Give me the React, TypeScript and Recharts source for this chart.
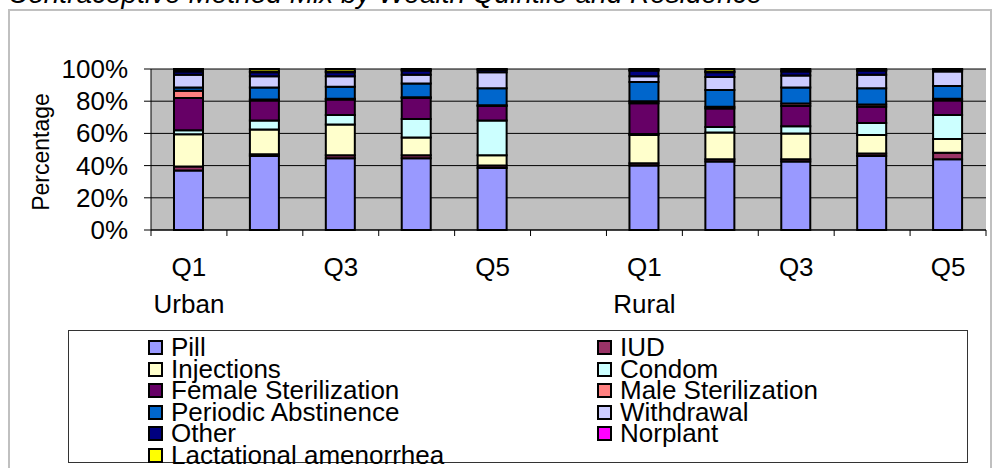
import { BarChart, Bar, XAxis, YAxis, CartesianGrid } from 'recharts'

const FONT = '"Liberation Sans", Arial, sans-serif'

// categories: Urban Q1..Q5, empty gap, Rural Q1..Q5
const categoryKeys = ['U1', 'U2', 'U3', 'U4', 'U5', 'gap', 'R1', 'R2', 'R3', 'R4', 'R5']
const categoryLabels = ['Q1', 'Q2', 'Q3', 'Q4', 'Q5', '', 'Q1', 'Q2', 'Q3', 'Q4', 'Q5']
const residenceLabels = ['Urban', '', '', '', '', '', 'Rural', '', '', '', '']
const yTicks = [0, 20, 40, 60, 80, 100]

const pill = [37, 46, 44.5, 44.5, 38.5, null, 40, 42.5, 42.5, 46, 44]
const iud = [2.5, 1, 2, 2, 1.5, null, 1.5, 1.5, 1.5, 1.5, 4]
const injections = [20, 15.5, 19, 11, 6.5, null, 17.5, 16.5, 16, 11.5, 8.5]
const condom = [2.5, 5.5, 6, 11.5, 21.5, null, 0.7, 3.5, 4.5, 7.5, 15]
const femaleSterilization = [20, 12.5, 9.5, 13, 9, null, 19, 11.5, 12.5, 10, 9]
const maleSterilization = [4.5, 0.5, 0.5, 0.5, 0.5, null, 1.3, 1, 1.5, 1.5, 1]
const periodicAbstinence = [2, 7.5, 7.5, 8.5, 10.5, null, 12, 10.5, 10, 10, 8]
const withdrawal = [8, 7, 6.5, 5.5, 10, null, 3.5, 8, 7.5, 8.5, 9]
const other = [2, 2.5, 2.5, 2.5, 1.5, null, 3.5, 3, 2.5, 2.5, 1]
const norplant = [1, 0.5, 0.5, 0.3, 0.2, null, 0.3, 0.5, 0.5, 0.3, 0.2]
const lactational = [0.5, 1.5, 1.5, 0.7, 0.3, null, 0.7, 1.5, 1, 0.7, 0.3]

const series = [
  { key: 'pill', name: 'Pill', color: '#9999FF', values: pill },
  { key: 'iud', name: 'IUD', color: '#993366', values: iud },
  { key: 'injections', name: 'Injections', color: '#FFFFCC', values: injections },
  { key: 'condom', name: 'Condom', color: '#CCFFFF', values: condom },
  { key: 'femaleSter', name: 'Female Sterilization', color: '#660066', values: femaleSterilization },
  { key: 'maleSter', name: 'Male Sterilization', color: '#FF8080', values: maleSterilization },
  { key: 'periodic', name: 'Periodic Abstinence', color: '#0066CC', values: periodicAbstinence },
  { key: 'withdrawal', name: 'Withdrawal', color: '#CCCCFF', values: withdrawal },
  { key: 'other', name: 'Other', color: '#000080', values: other },
  { key: 'norplant', name: 'Norplant', color: '#FF00FF', values: norplant },
  { key: 'lam', name: 'Lactational amenorrhea', color: '#FFFF00', values: lactational },
]

const data = categoryKeys.map((key, i) => {
  const row: Record<string, any> = { key }
  series.forEach(s => {
    row[s.key] = s.values[i]
  })
  return row
})

const W = 992
const H = 468
const PLOT_LEFT = 151
const PLOT_RIGHT = 986
const PLOT_TOP = 69
const PLOT_BOTTOM = 230
const STEP = (PLOT_RIGHT - PLOT_LEFT) / categoryKeys.length

function YTick({ x, y, payload }: any) {
  return (
    <text x={x} y={y + 9} textAnchor="end" fontSize={26} fontFamily={FONT} fill="#000">
      {payload.value}%
    </text>
  )
}

function XTick({ x, payload, index }: any) {
  const i = payload?.index ?? index
  const label = categoryLabels[i]
  const showLabel = i % 2 === 0 && label !== ''
  const last = i === categoryKeys.length - 1
  return (
    <g>
      <line x1={x - STEP / 2} x2={x - STEP / 2} y1={PLOT_BOTTOM} y2={PLOT_BOTTOM + 6} stroke="#000" />
      {last && (
        <line x1={x + STEP / 2} x2={x + STEP / 2} y1={PLOT_BOTTOM} y2={PLOT_BOTTOM + 6} stroke="#000" />
      )}
      {showLabel && (
        <text x={x} y={PLOT_BOTTOM + 46} textAnchor="middle" fontSize={26} fontFamily={FONT} fill="#000">
          {label}
        </text>
      )}
      {residenceLabels[i] && (
        <text x={x} y={PLOT_BOTTOM + 83} textAnchor="middle" fontSize={26} fontFamily={FONT} fill="#000">
          {residenceLabels[i]}
        </text>
      )}
    </g>
  )
}

function LegendBox() {
  return (
    <div
      style={{
        position: 'absolute',
        left: 68,
        top: 330,
        width: 900,
        height: 133,
        border: '1px solid #333',
        boxSizing: 'border-box',
      }}
    >
      <div
        style={{
          position: 'absolute',
          left: 79,
          top: 6,
          display: 'grid',
          gridTemplateColumns: '449px 320px',
          fontFamily: FONT,
          fontSize: 26,
          lineHeight: '21.5px',
          color: '#000',
        }}
      >
        {series.map(s => (
          <div key={s.key} style={{ display: 'flex', alignItems: 'center', height: 21.5, whiteSpace: 'nowrap' }}>
            <span
              style={{
                display: 'inline-block',
                width: 15,
                height: 15,
                border: '2px solid #000',
                boxSizing: 'border-box',
                background: s.color,
                marginRight: 8,
                flexShrink: 0,
              }}
            />
            <span>{s.name}</span>
          </div>
        ))}
      </div>
    </div>
  )
}

export default function App() {
  return (
    <div style={{ position: 'fixed', left: 0, top: 0, width: W, height: H, background: '#fff', overflow: 'hidden' }}>
      <svg width={W} height={H} style={{ position: 'absolute', left: 0, top: 0 }}>
        <text x={8} y={3} fontSize={28} fontStyle="italic" fontFamily={FONT} fill="#000">
          Contraceptive Method Mix by Wealth Quintile and Residence
        </text>
        <path d={`M9 ${H + 5} V10 H991 V${H + 5}`} fill="none" stroke="#C0C0C0" strokeWidth={2} />
        <text
          transform={`translate(49, 152) rotate(-90)`}
          textAnchor="middle"
          fontSize={23}
          fontFamily={FONT}
          fill="#000"
        >
          Percentage
        </text>
      </svg>
      <div style={{ position: 'absolute', left: 0, top: 0 }}>
        <BarChart
          width={W}
          height={H}
          data={data}
          margin={{ top: PLOT_TOP, right: W - PLOT_RIGHT, bottom: H - PLOT_BOTTOM - 80, left: 10 }}
          barCategoryGap="30%"
        >
          <CartesianGrid vertical={false} stroke="#000" fill="#C0C0C0" fillOpacity={1} />
          <XAxis
            dataKey="key"
            interval={0}
            tickLine={false}
            axisLine={{ stroke: '#000' }}
            height={80}
            tick={(props: any) => <XTick {...props} />}
          />
          <YAxis
            width={PLOT_LEFT - 10}
            domain={[0, 100]}
            ticks={yTicks}
            tickSize={7}
            tickMargin={16}
            axisLine={{ stroke: '#000' }}
            tickLine={{ stroke: '#000' }}
            tick={(props: any) => <YTick {...props} />}
          />
          {series.map(s => (
            <Bar
              key={s.key}
              dataKey={s.key}
              name={s.name}
              stackId="a"
              fill={s.color}
              stroke="#000"
              strokeWidth={2}
              barSize={29}
              isAnimationActive={false}
            />
          ))}
        </BarChart>
      </div>
      <LegendBox />
    </div>
  )
}
